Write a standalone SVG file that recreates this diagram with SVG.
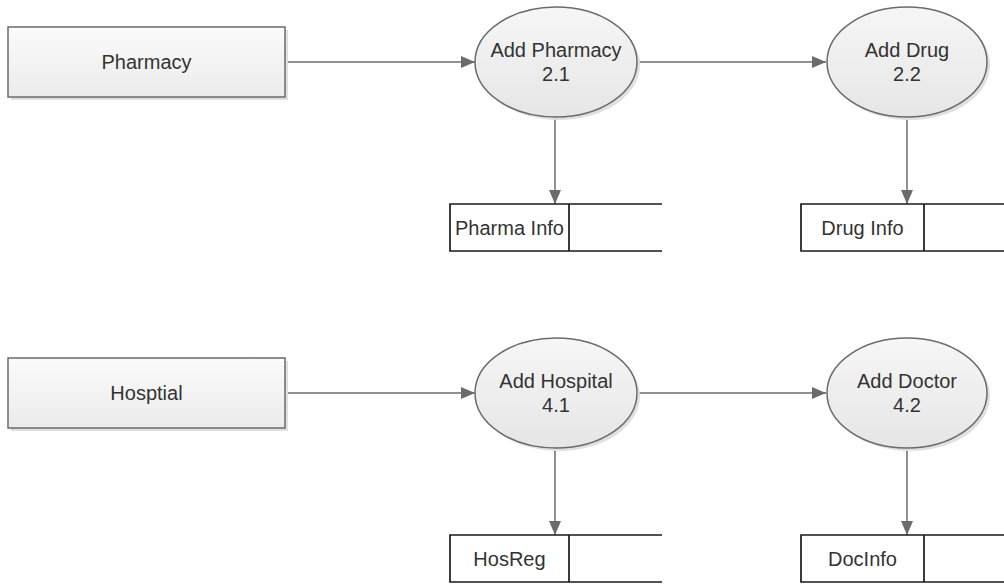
<svg xmlns="http://www.w3.org/2000/svg" width="1004" height="584" viewBox="0 0 1004 584">
<defs>
<linearGradient id="gRect" x1="0" y1="0" x2="0" y2="1">
<stop offset="0" stop-color="#fbfbfb"/>
<stop offset="1" stop-color="#ebebeb"/>
</linearGradient>
<linearGradient id="gEll" x1="0" y1="0" x2="0" y2="1">
<stop offset="0" stop-color="#f6f6f6"/>
<stop offset="1" stop-color="#e6e6e6"/>
</linearGradient>
<marker id="arr" viewBox="0 0 14 12" refX="14" refY="6" markerWidth="14" markerHeight="12" markerUnits="userSpaceOnUse" orient="auto">
<path d="M0,0 L14,6 L0,12 Z" fill="#6b6b6b"/>
</marker>
<style>
.ent{fill:url(#gRect);stroke:#6b6b6b;stroke-width:1.5}
.proc{fill:url(#gEll);stroke:#6b6b6b;stroke-width:1.5}
.shadow{fill:#e0e0e0}
.store{fill:none;stroke:#1a1a1a;stroke-width:1.7}
.conn{fill:none;stroke:#6b6b6b;stroke-width:1.5;marker-end:url(#arr)}
text{font-family:"Liberation Sans",Arial,sans-serif;font-size:20px;fill:#333333;text-anchor:middle}
</style>
</defs>
<g id="connectors">
<line class="conn" x1="285" y1="62" x2="475" y2="62"/>
<line class="conn" x1="637" y1="62" x2="826" y2="62"/>
<line class="conn" x1="555" y1="117" x2="555" y2="204"/>
<line class="conn" x1="907" y1="117" x2="907" y2="204"/>
<line class="conn" x1="285" y1="393" x2="475" y2="393"/>
<line class="conn" x1="637" y1="393" x2="826" y2="393"/>
<line class="conn" x1="555" y1="448" x2="555" y2="535"/>
<line class="conn" x1="907" y1="448" x2="907" y2="535"/>
</g>
<g id="pharmacy">
<rect class="shadow" x="11" y="30" width="277" height="70"/>
<rect class="ent" x="8" y="27" width="277" height="70"/>
<text x="146.5" y="69">Pharmacy</text>
</g>
<g id="add-pharmacy">
<ellipse class="shadow" cx="559" cy="65" rx="81" ry="55"/>
<ellipse class="proc" cx="556" cy="62" rx="81" ry="55"/>
<text x="556" y="57">Add Pharmacy</text>
<text x="556" y="81">2.1</text>
</g>
<g id="add-drug">
<ellipse class="shadow" cx="910" cy="65" rx="80" ry="55"/>
<ellipse class="proc" cx="907" cy="62" rx="80" ry="55"/>
<text x="907" y="57">Add Drug</text>
<text x="907" y="81">2.2</text>
</g>
<g id="pharma-info">
<path class="store" d="M662,204 H450 V251 H662 M569,204 V251"/>
<text x="509.5" y="235">Pharma Info</text>
</g>
<g id="drug-info">
<path class="store" d="M1004,204 H801 V251 H1004 M924,204 V251"/>
<text x="862.5" y="235">Drug Info</text>
</g>
<g id="hosptial">
<rect class="shadow" x="11" y="361" width="277" height="70"/>
<rect class="ent" x="8" y="358" width="277" height="70"/>
<text x="146.5" y="400">Hosptial</text>
</g>
<g id="add-hospital">
<ellipse class="shadow" cx="559" cy="396" rx="81" ry="55"/>
<ellipse class="proc" cx="556" cy="393" rx="81" ry="55"/>
<text x="556" y="388">Add Hospital</text>
<text x="556" y="412">4.1</text>
</g>
<g id="add-doctor">
<ellipse class="shadow" cx="910" cy="396" rx="80" ry="55"/>
<ellipse class="proc" cx="907" cy="393" rx="80" ry="55"/>
<text x="907" y="388">Add Doctor</text>
<text x="907" y="412">4.2</text>
</g>
<g id="hosreg">
<path class="store" d="M662,535 H450 V582 H662 M569,535 V582"/>
<text x="509.5" y="566">HosReg</text>
</g>
<g id="docinfo">
<path class="store" d="M1004,535 H801 V582 H1004 M924,535 V582"/>
<text x="862.5" y="566">DocInfo</text>
</g>
</svg>
